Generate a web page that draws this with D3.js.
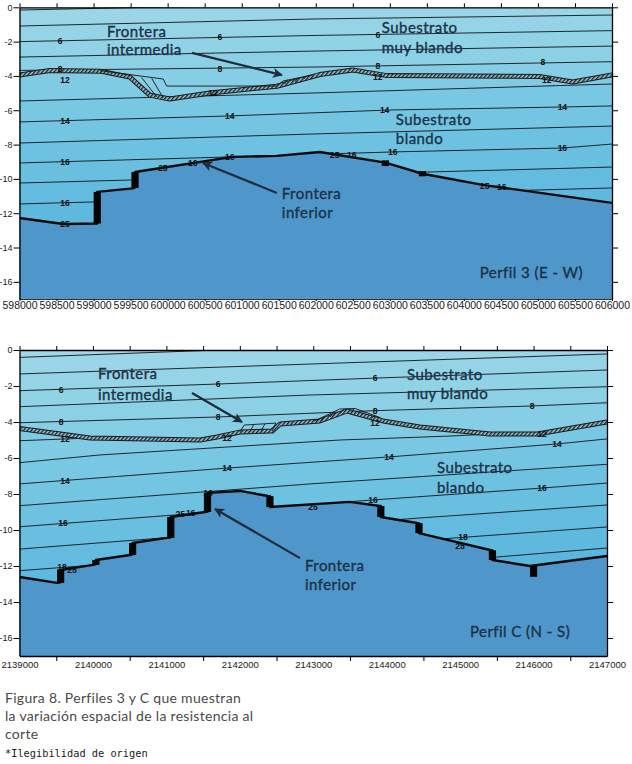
<!DOCTYPE html>
<html><head><meta charset="utf-8">
<script src="https://cdn.jsdelivr.net/npm/d3@7"></script>
<style>body{margin:0;background:#fff}svg{display:block}</style>
</head><body>
<svg id="c" width="632" height="764"></svg>
<script>
// ---------------- DATA ----------------
const yTicks = [0,-2,-4,-6,-8,-10,-12,-14,-16];
const topXLabels = [598000,598500,599000,599500,600000,600500,601000,601500,602000,602500,603000,603500,604000,604500,605000,605500,606000];
const botXLabels = [2139000,2140000,2141000,2142000,2143000,2144000,2145000,2146000,2147000];
const botXMinor = [2139500,2140500,2141500,2142500,2143500,2144500,2145500,2146500];

// Perfil 3 (E-W): contour lines (x, depth)
const topContours = [
  [[598000,-0.16],[599700,0.0],[606000,0.45]],
  [[598000,-1.09],[601990,-0.68],[606000,-0.45]],
  [[598000,-2.0],[601990,-1.64],[606000,-1.36]],
  [[598000,-2.9],[601990,-2.55],[606000,-2.26]],
  [[598000,-3.68],[601990,-3.48],[606000,-3.17]],
  [[598000,-5.46],[601990,-4.99],[606000,-4.47]],
  [[598000,-6.68],[600840,-6.33],[603040,-5.98],[605330,-5.81],[606000,-5.75]],
  [[598000,-7.91],[601990,-7.38],[606000,-6.92]],
  [[598000,-9.07],[600840,-8.72],[603040,-8.43],[605330,-8.2],[606000,-7.97]],
  [[598000,-10.24],[606000,-9.31]],
  [[598000,-11.46],[606000,-10.53]]
];
const topExtra = [];
const topBand = [[598000,-3.95],[598410,-3.68],[599090,-3.72],[599490,-4.07],[599760,-5.12],[600030,-5.34],[600570,-4.99],[601475,-4.6],[602055,-3.92],[602500,-3.65],[602960,-3.98],[605020,-4.03],[605470,-4.35],[606000,-3.95]];
const topRails = [
  [[599086,-3.69],[599941,-4.18],[599987,-4.59],[601475,-4.59]],
  [[601475,-4.59],[601560,-4.29],[601960,-3.95]]
];
const topRungs = [
  [[599650,-4.1],[599850,-5.21]],
  [[599785,-4.14],[599940,-5.27]],
  [[601620,-4.22],[601580,-4.47]],
  [[601760,-4.1],[601720,-4.33]],
  [[601880,-4.0],[601840,-4.17]]
];
const topLower = [[598000,-12.28],[598590,-12.63],[599050,-12.6],[599050,-10.76],[599530,-10.55],[599560,-10.5],[599560,-9.6],[600880,-8.72],[601475,-8.66],[602055,-8.43],[602940,-9.05],[603440,-9.7],[604255,-10.35],[606000,-11.4]];
const topSteps = [[599050,-10.76,-12.6],[599560,-9.6,-10.53],[602940,-8.92,-9.25],[603440,-9.55,-9.85]];
const topLabels = [
  ["6",598547,-1.96],["6",600706,-1.73],["6",602838,-1.61],
  ["8",598547,-3.6],["8",600706,-3.6],["8",602838,-3.42],["8",605065,-3.19],
  ["12",598614,-4.24],["12",600611,-4.99],["12",602838,-4.06],["12",605118,-4.24],
  ["14",598614,-6.63],["14",600840,-6.33],["14",602930,-5.96],["14",605330,-5.81],
  ["16",598614,-9.02],["16",600840,-8.72],["16",603040,-8.43],["16",605330,-8.2],["16",598614,-11.4],
  ["25",598614,-12.63],["25",599936,-9.36],["16",600340,-9.07],
  ["25",602258,-8.61],["16",602487,-8.61],["25",604282,-10.41],["16",604511,-10.47]
];
const topTexts = [
  ["Frontera",599181,-1.74],["intermedia",599181,-2.8],
  ["Subestrato",602892,-1.5],["muy blando",602892,-2.66],
  ["Subestrato",603081,-6.86],["blando",603081,-7.97],
  ["Frontera",601542,-11.2],["inferior",601542,-12.28],
  ["Perfil 3 (E - W)",604214,-15.78]
];
const topArrows = [
  [[600328,-2.66],[601543,-3.95]],
  [[601475,-10.82],[600476,-9.07]]
];

// Perfil C (N-S)
const botContours = [
  [[2139000,-0.41],[2141700,0.0],[2147000,0.6]],
  [[2139000,-1.33],[2142956,-0.78],[2147000,-0.22]],
  [[2139000,-2.26],[2141703,-1.89],[2143841,-1.56],[2147000,-1.11]],
  [[2139000,-3.15],[2142956,-2.5],[2147000,-2.04]],
  [[2139000,-4.04],[2141703,-3.72],[2143841,-3.37],[2145979,-3.11],[2147000,-2.93]],
  [[2139000,-6.26],[2140096,-5.83],[2143364,-5.0],[2144862,-4.78],[2145407,-4.67],[2146050,-4.67],[2147000,-4.05]],
  [[2139000,-7.44],[2141826,-6.56],[2144032,-5.94],[2146319,-5.22],[2147000,-4.94]],
  [[2139000,-8.65],[2142956,-7.44],[2147000,-6.35]],
  [[2139000,-9.82],[2143814,-8.33],[2146115,-7.67],[2147000,-7.39]],
  [[2139000,-11.06],[2144454,-9.33],[2147000,-8.61]],
  [[2139000,-12.26],[2145094,-10.39],[2147000,-9.83]],
  [[2139000,-13.44],[2145502,-11.5],[2147000,-11.0]]
];
const botExtra = [[[2139000,-5.04],[2139960,-4.89]]];
const botBand = [[2139000,-4.36],[2139960,-4.89],[2141460,-5.0],[2141690,-4.83],[2142000,-4.56],[2142440,-4.5],[2142550,-4.11],[2143090,-3.94],[2143460,-3.39],[2143950,-3.94],[2144450,-4.28],[2145410,-4.67],[2146050,-4.67],[2147000,-4.0]];
const botRails = [
  [[2142060,-4.17],[2142490,-4.06]],
  [[2143020,-3.94],[2143360,-3.28],[2143570,-3.25],[2143910,-3.75]]
];
const botRungs = [
  [[2142060,-4.17],[2142000,-4.56]],[[2142190,-4.14],[2142140,-4.53]],
  [[2142340,-4.11],[2142290,-4.51]],[[2142490,-4.06],[2142440,-4.5]],
  [[2143150,-3.75],[2143100,-3.93]],[[2143280,-3.45],[2143230,-3.72]],
  [[2143420,-3.27],[2143370,-3.52]],[[2143560,-3.25],[2143510,-3.45]],
  [[2143700,-3.45],[2143650,-3.61]],[[2143840,-3.65],[2143790,-3.79]]
];
const botLower = [[2139000,-12.61],[2139511,-12.94],[2139560,-12.9],[2139560,-12.22],[2140001,-11.94],[2140040,-11.9],[2140040,-11.67],[2140505,-11.39],[2140540,-11.35],[2140540,-10.72],[2141008,-10.44],[2141060,-10.4],[2141060,-9.28],[2141526,-9.0],[2141560,-8.98],[2141560,-7.94],[2142002,-7.83],[2142383,-8.11],[2142410,-8.12],[2142410,-8.72],[2143500,-8.44],[2143909,-8.67],[2143920,-8.67],[2143920,-9.28],[2144413,-9.61],[2144440,-9.62],[2144440,-10.17],[2145407,-11.11],[2145440,-11.13],[2145440,-11.67],[2145951,-12.0],[2147000,-11.44]];
const botSteps = [[2139560,-12.22,-12.94],[2140040,-11.67,-11.94],[2140540,-10.72,-11.39],[2141060,-9.28,-10.44],[2141560,-7.94,-9.0],[2142410,-8.12,-8.72],[2143920,-8.67,-9.28],[2144440,-9.62,-10.17],[2145440,-11.13,-11.67],[2146000,-12.0,-12.6]];
const botLabels = [
  ["6",2139565,-2.22],["6",2141703,-1.89],["6",2143841,-1.56],
  ["8",2139565,-3.98],["8",2141703,-3.72],["8",2143841,-3.37],["8",2145979,-3.11],
  ["12",2139620,-4.94],["12",2141826,-4.87],["12",2143841,-4.06],["12",2146115,-4.67],
  ["14",2139620,-7.28],["14",2141826,-6.56],["14",2144032,-5.94],["14",2146319,-5.22],
  ["16",2139592,-9.61],["16",2143814,-8.33],["16",2146115,-7.67],["16",2141567,-7.94],
  ["18",2139579,-12.06],["18",2145040,-10.39],
  ["25",2139715,-12.22],["25",2141190,-9.12],["16",2141330,-9.06],["25",2142997,-8.72],["25",2144999,-10.89]
];
const botTexts = [
  ["Frontera",2140069,-1.62],["intermedia",2140069,-2.78],
  ["Subestrato",2144277,-1.67],["muy blando",2144277,-2.72],
  ["Subestrato",2144685,-6.83],["blando",2144685,-7.94],
  ["Frontera",2142888,-12.3],["inferior",2142888,-13.36],
  ["Perfil C (N - S)",2145134,-15.94]
];
const botArrows = [
  [[2141349,-2.39],[2142030,-4.0]],
  [[2142820,-11.56],[2141662,-8.83]]
];

const captionLines = ["Figura 8. Perfiles 3 y C que muestran","la variación espacial de la resistencia al","corte"];
const noteLine = "*Ilegibilidad de origen";

// ---------------- STYLE ----------------
const bandColors = ["#9fd8e8","#9ad6e7","#95d4e6","#90d2e6","#8bd0e5","#86cee5","#7fcbe4","#79c8e3","#73c5e2","#6dc2e1","#68bfe0","#63bcdf","#5fb9de","#5bb6dd"];
const lowerColor = "#4f96ca";
const textColor = "#1b3246";

const svg = d3.select("#c");
const defs = svg.append("defs");
const pat = defs.append("pattern").attr("id","hatch").attr("width",3).attr("height",3)
  .attr("patternUnits","userSpaceOnUse").attr("patternTransform","rotate(40)");
pat.append("rect").attr("width",3).attr("height",3).attr("fill","#9cc4d2");
pat.append("rect").attr("width",1.4).attr("height",3).attr("fill","#1d262c");
defs.append("marker").attr("id","arr").attr("viewBox","0 0 10 10").attr("refX",9).attr("refY",5)
  .attr("markerUnits","userSpaceOnUse").attr("markerWidth",13).attr("markerHeight",10).attr("orient","auto")
  .append("path").attr("d","M0,0 L10,5 L0,10 L2.5,5 Z").attr("fill","#1e2d3a");

function panel(o){
  const x = d3.scaleLinear().domain(o.xDomain).range([o.left,o.right]);
  const y = d3.scaleLinear().domain([0,-17]).range([o.top,o.bottom]);
  defs.append("clipPath").attr("id","clip"+o.id).append("rect")
    .attr("x",o.left).attr("y",o.top).attr("width",o.right-o.left).attr("height",o.bottom-o.top);
  const g = svg.append("g");
  const pg = g.append("g").attr("clip-path",`url(#clip${o.id})`);
  pg.append("rect").attr("x",o.left).attr("y",o.top).attr("width",o.right-o.left).attr("height",o.bottom-o.top).attr("fill",bandColors[0]);
  const area = d3.area().x(d=>x(d[0])).y0(d=>y(d[1])).y1(y(-17.5));
  const line = d3.line().x(d=>x(d[0])).y(d=>y(d[1]));
  const fills = [...o.contours.slice(0,5), o.band, ...o.contours.slice(5)];
  fills.forEach((ln,i)=>pg.append("path").attr("d",area(ln)).attr("fill",bandColors[i+1]));
  [...o.contours, ...o.extra].forEach(ln=>pg.append("path").attr("d",line(ln))
    .attr("fill","none").attr("stroke","#141414").attr("stroke-width",0.9));
  // intermediate boundary
  pg.append("path").attr("d",line(o.band)).attr("fill","none").attr("stroke","#1a1a1a")
    .attr("stroke-width",5).attr("stroke-linejoin","round");
  pg.append("path").attr("d",line(o.band)).attr("fill","none").attr("stroke","url(#hatch)")
    .attr("stroke-width",3).attr("stroke-linejoin","round");
  o.rails.forEach(ln=>pg.append("path").attr("d",line(ln)).attr("fill","none").attr("stroke","#141414").attr("stroke-width",0.9));
  o.rungs.forEach(ln=>pg.append("path").attr("d",line(ln)).attr("fill","none").attr("stroke","#141414").attr("stroke-width",0.9));
  // lower boundary
  pg.append("path").attr("d",area(o.lower)).attr("fill",lowerColor);
  pg.append("path").attr("d",line(o.lower)).attr("fill","none").attr("stroke","#0a0a0a")
    .attr("stroke-width",2.4).attr("stroke-linejoin","round");
  pg.selectAll(null).data(o.steps).join("rect")
    .attr("x",d=>x(d[0])-3.6).attr("width",7.2)
    .attr("y",d=>y(d[1])).attr("height",d=>y(d[2])-y(d[1])).attr("fill","#050505");
  // contour labels
  pg.selectAll(null).data(o.labels).join("text")
    .attr("x",d=>x(d[1])).attr("y",d=>y(d[2])).attr("dy","0.35em")
    .attr("text-anchor","middle").attr("font-family","Liberation Sans, Arial, sans-serif")
    .attr("font-weight","bold").attr("font-size",8.5).attr("fill","#0d0d0d").text(d=>d[0]);
  // annotation texts
  pg.selectAll(null).data(o.texts).join("text")
    .attr("x",d=>x(d[1])).attr("y",d=>y(d[2]))
    .attr("font-family","Lato, sans-serif").attr("font-size",15).attr("letter-spacing",0.45)
    .attr("fill",textColor).attr("stroke",textColor).attr("stroke-width",0.35).text(d=>d[0]);
  o.arrows.forEach(a=>pg.append("path").attr("d",line(a)).attr("fill","none")
    .attr("stroke","#1e2d3a").attr("stroke-width",2.2).attr("marker-end","url(#arr)"));
  // axes
  const style = sel => {
    sel.selectAll("path.domain").attr("stroke","#000").attr("stroke-width",1.3);
    sel.selectAll(".tick line").attr("stroke","#000").attr("stroke-width",1);
    sel.selectAll("text").attr("font-family","Liberation Sans, Arial, sans-serif").attr("fill","#1a1a1a");
    sel.attr("font-size",null).attr("font-family",null);
  };
  g.append("g").attr("transform",`translate(${o.left},0)`)
    .call(d3.axisLeft(y).tickValues(yTicks).tickSize(6).tickPadding(1).tickSizeOuter(0).tickFormat(d=>String(d)))
    .call(style).selectAll("text").attr("font-size",9);
  g.append("g").attr("transform",`translate(${o.right},0)`)
    .call(d3.axisRight(y).tickValues(yTicks).tickSize(6).tickSizeOuter(0).tickFormat("")).call(style);
  g.append("g").attr("transform",`translate(0,${o.top})`)
    .call(d3.axisTop(x).tickValues(o.topTicks).tickSize(4).tickSizeOuter(0).tickFormat("")).call(style);
  if (o.minor) {
    g.append("g").attr("transform",`translate(0,${o.bottom})`)
      .call(d3.axisBottom(x).tickValues(o.minor).tickSize(5).tickSizeOuter(0).tickFormat("")).call(style);
  }
  const bx = g.append("g").attr("transform",`translate(0,${o.bottom})`)
    .call(d3.axisBottom(x).tickValues(o.xLabels).tickSize(o.labTick).tickPadding(o.labPad).tickSizeOuter(0).tickFormat(d=>String(d)))
    .call(style);
  bx.selectAll("text").attr("font-size",o.labSize);
  bx.select("path.domain").attr("stroke-width",0.8);
}

panel({id:"t",xDomain:[598000,606000],left:19.5,right:612,top:7.3,bottom:299,
  contours:topContours,extra:topExtra,band:topBand,rails:topRails,rungs:topRungs,lower:topLower,steps:topSteps,
  labels:topLabels,texts:topTexts,arrows:topArrows,topTicks:topXLabels,xLabels:topXLabels,minor:null,
  labTick:2,labPad:0.5,labSize:10.5});
panel({id:"b",xDomain:[2139000,2147000],left:19.5,right:607,top:350,bottom:656,
  contours:botContours,extra:botExtra,band:botBand,rails:botRails,rungs:botRungs,lower:botLower,steps:botSteps,
  labels:botLabels,texts:botTexts,arrows:botArrows,topTicks:botXLabels.concat(botXMinor),xLabels:botXLabels,minor:botXMinor,
  labTick:0,labPad:5.3,labSize:9.5});

// caption
svg.selectAll(null).data(captionLines).join("text")
  .attr("x",5).attr("y",(d,i)=>[703,721,739][i])
  .attr("font-family","Lato, sans-serif").attr("font-size",14).attr("letter-spacing",0.3)
  .attr("fill","#4a4a4a").text(d=>d);
svg.append("text").attr("x",5).attr("y",757).attr("font-family","DejaVu Sans Mono, monospace")
  .attr("font-size",10.3).attr("fill","#1a1a1a").text(noteLine);
</script>
</body></html>
